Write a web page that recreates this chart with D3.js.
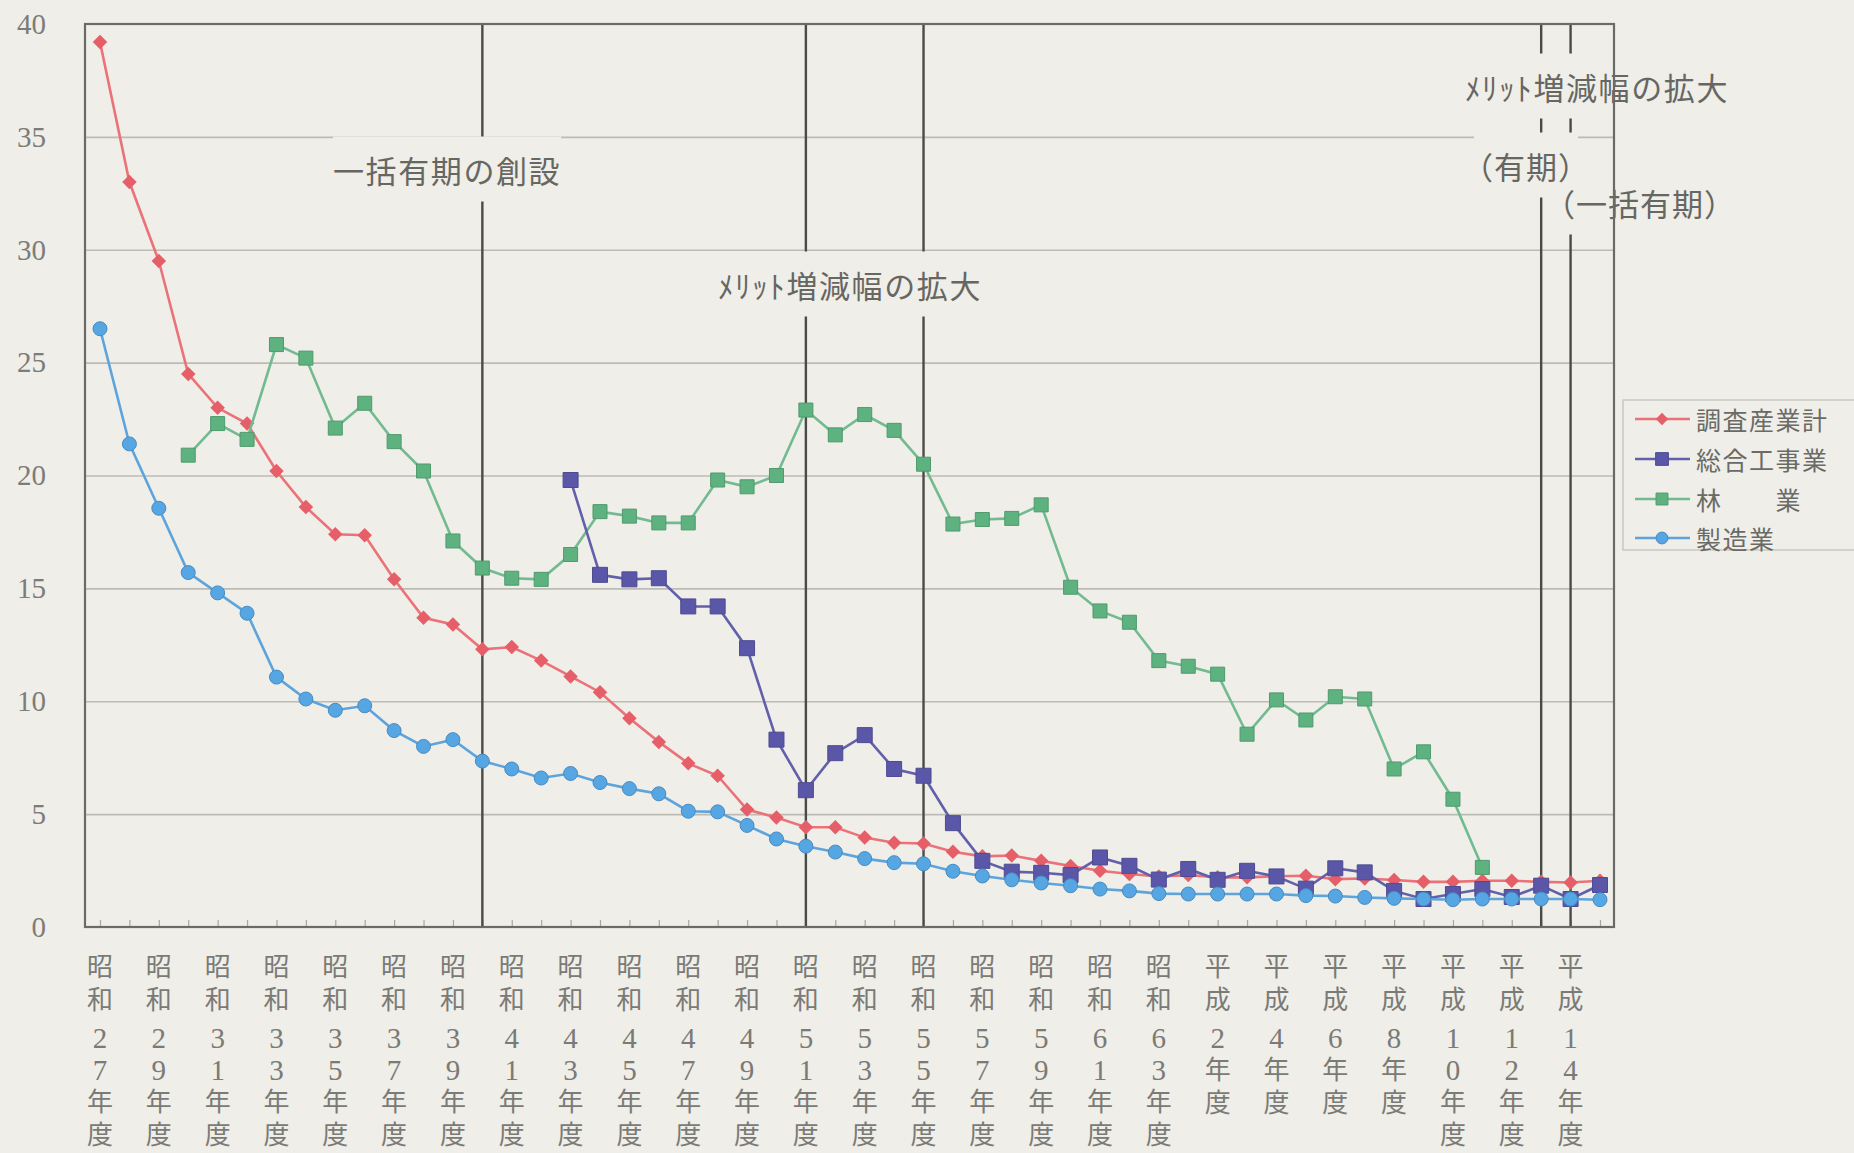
<!DOCTYPE html>
<html>
<head>
<meta charset="utf-8">
<script src="https://cdn.jsdelivr.net/npm/d3@7/dist/d3.min.js"></script>
<style>
  body { margin: 0; background: #efeee8; }
  svg { display: block; }
</style>
</head>
<body>
<div id="chart_area"></div>
<script>

// Years (one point per 年度)
var years = [1952, 1953, 1954, 1955, 1956, 1957, 1958, 1959, 1960, 1961,
             1962, 1963, 1964, 1965, 1966, 1967, 1968, 1969, 1970, 1971,
             1972, 1973, 1974, 1975, 1976, 1977, 1978, 1979, 1980, 1981,
             1982, 1983, 1984, 1985, 1986, 1987, 1988, 1989, 1990, 1991,
             1992, 1993, 1994, 1995, 1996, 1997, 1998, 1999, 2000, 2001,
             2002, 2003];

// Series values
var sangyo = [39.2, 33.0, 29.5, 24.5, 23.0, 22.3, 20.2, 18.6, 17.4, 17.35,
              15.4, 13.7, 13.4, 12.3, 12.4, 11.8, 11.1, 10.4, 9.25, 8.2,
              7.25, 6.7, 5.2, 4.85, 4.42, 4.42, 3.96, 3.73, 3.7, 3.33,
              3.13, 3.17, 2.93, 2.7, 2.49, 2.35, 2.24, 2.3, 2.2, 2.2,
              2.25, 2.27, 2.12, 2.15, 2.08, 2.0, 2.0, 2.05, 2.05, 2.0,
              1.97, 2.05];

var sogo = [null, null, null, null, null, null, null, null, null, null,
            null, null, null, null, null, null, 19.8, 15.6, 15.4, 15.45,
            14.2, 14.2, 12.35, 8.3, 6.06, 7.7, 8.5, 7.0, 6.7, 4.6,
            2.93, 2.45, 2.4, 2.3, 3.08, 2.71, 2.1, 2.57, 2.09, 2.49,
            2.24, 1.7, 2.6, 2.42, 1.6, 1.24, 1.46, 1.68, 1.33, 1.83,
            1.24, 1.86];

var ringyo = [null, null, null, 20.9, 22.3, 21.6, 25.8, 25.2, 22.1, 23.2,
              21.5, 20.2, 17.1, 15.9, 15.45, 15.4, 16.5, 18.4, 18.2, 17.9,
              17.9, 19.8, 19.5, 20.0, 22.9, 21.8, 22.7, 22.0, 20.5, 17.85,
              18.05, 18.1, 18.7, 15.05, 14.0, 13.5, 11.8, 11.55, 11.2, 8.54,
              10.06, 9.17, 10.2, 10.1, 7.0, 7.76, 5.66, 2.64, null, null,
              null, null];

var seizo = [26.5, 21.4, 18.55, 15.7, 14.8, 13.9, 11.07, 10.1, 9.6, 9.8,
             8.7, 8.0, 8.3, 7.35, 7.0, 6.6, 6.8, 6.4, 6.13, 5.9,
             5.13, 5.1, 4.5, 3.9, 3.58, 3.32, 3.03, 2.85, 2.8, 2.47,
             2.26, 2.09, 1.95, 1.83, 1.68, 1.6, 1.48, 1.46, 1.46, 1.46,
             1.46, 1.39, 1.37, 1.31, 1.27, 1.24, 1.21, 1.24, 1.24, 1.24,
             1.24, 1.21];

// Tick labels
var yTicks = [0, 5, 10, 15, 20, 25, 30, 35, 40];
var labelYears = [1952, 1954, 1956, 1958, 1960, 1962, 1964, 1966, 1968, 1970,
                  1972, 1974, 1976, 1978, 1980, 1982, 1984, 1986, 1988, 1990,
                  1992, 1994, 1996, 1998, 2000, 2002];
var xLabels = ["昭和27年度", "昭和29年度", "昭和31年度", "昭和33年度", "昭和35年度",
               "昭和37年度", "昭和39年度", "昭和41年度", "昭和43年度", "昭和45年度",
               "昭和47年度", "昭和49年度", "昭和51年度", "昭和53年度", "昭和55年度",
               "昭和57年度", "昭和59年度", "昭和61年度", "昭和63年度", "平成2年度",
               "平成4年度", "平成6年度", "平成8年度", "平成10年度", "平成12年度",
               "平成14年度"];

// Policy change years (vertical lines) and notes
var policyYears = [1965, 1976, 1980, 2001, 2002];
var notes = ["一括有期の創設", "ﾒﾘｯﾄ増減幅の拡大", "ﾒﾘｯﾄ増減幅の拡大", "（有期）", "（一括有期）"];

var seriesNames = ["調査産業計", "総合工事業", "林　　業", "製造業"];

// Frame
var frame_width = 1854;
var frame_height = 1153;
var plot = {left: 85, right: 1614, top: 24, bottom: 927};
var bg = "#efeee8";

var frame = d3.select("#chart_area").append("svg")
    .attr("width", frame_width)
    .attr("height", frame_height)
    .style("background", bg);

// Scales
var xScale = d3.scaleLinear().domain([1952, 2003]).range([100, 1600]);
var yScale = d3.scaleLinear().domain([0, 40]).range([plot.bottom, plot.top]);

// Horizontal grid
frame.append("g")
    .attr("class", "grid")
    .attr("transform", "translate(" + plot.left + ",0)")
    .call(d3.axisLeft(yScale).tickValues(yTicks.slice(1, -1))
          .tickSize(-(plot.right - plot.left)).tickFormat(""))
    .call(function(g) { g.select(".domain").remove(); })
    .selectAll("line")
    .attr("stroke", "#bcbcb4")
    .attr("stroke-width", 1.6);

// y tick labels
var yAxis = frame.append("g")
    .attr("class", "y axis")
    .attr("transform", "translate(46,0)")
    .call(d3.axisLeft(yScale).tickValues(yTicks).tickSize(0).tickPadding(0));
yAxis.select(".domain").remove();
yAxis.selectAll("text")
    .attr("font-family", "'Liberation Serif', 'DejaVu Serif', serif")
    .attr("font-size", 29)
    .attr("fill", "#7c7c78");

// yearly minor ticks on the bottom edge
var xAxis = frame.append("g")
    .attr("class", "x axis")
    .attr("transform", "translate(0," + plot.bottom + ")")
    .call(d3.axisBottom(xScale).tickValues(years).tickSize(-7).tickFormat(""));
xAxis.select(".domain").remove();
xAxis.selectAll("line").attr("stroke", "#a8a8a0").attr("stroke-width", 1.2);

// Vertical policy lines
frame.append("g")
    .selectAll("line")
    .data(policyYears)
    .enter().append("line")
    .attr("x1", function(d) { return xScale(d); })
    .attr("x2", function(d) { return xScale(d); })
    .attr("y1", plot.top)
    .attr("y2", plot.bottom)
    .attr("stroke", "#4a4a48")
    .attr("stroke-width", 2.4);

// Notes (with background so the lines break behind them)
var notePos = [[333, 169], [718, 284], [1465, 86], [1462, 165], [1544, 202]];
var rectG = frame.append("g");
var noteG = frame.append("g");
notes.forEach(function(t, i) {
  var txt = noteG.append("text")
      .attr("x", notePos[i][0])
      .attr("y", notePos[i][1])
      .attr("dominant-baseline", "central")
      .attr("font-family", "'Noto Sans CJK JP', sans-serif")
      .attr("font-size", 31)
      .attr("letter-spacing", i >= 3 ? 1 : 1.6)
      .attr("fill", "#666662")
      .text(t);
  var bb = txt.node().getBBox();
  rectG.append("rect")
      .attr("x", bb.x + (i >= 3 ? 12 : 0))
      .attr("y", bb.y - 10)
      .attr("width", bb.width - (i >= 3 ? 24 : 0))
      .attr("height", bb.height + 20)
      .attr("fill", bg);
});

// Plot border
frame.append("rect")
    .attr("x", plot.left)
    .attr("y", plot.top)
    .attr("width", plot.right - plot.left)
    .attr("height", plot.bottom - plot.top)
    .attr("fill", "none")
    .attr("stroke", "#6a6a66")
    .attr("stroke-width", 2.2);

// Series
var series = [
  {name: seriesNames[0], values: sangyo, line: "#ea7278", fill: "#e65e68", shape: "diamond", order: 0},
  {name: seriesNames[1], values: sogo,   line: "#6260aa", fill: "#5a57a8", shape: "square",  order: 2},
  {name: seriesNames[2], values: ringyo, line: "#72ba90", fill: "#5db27f", shape: "square",  order: 1},
  {name: seriesNames[3], values: seizo,  line: "#5ea4dc", fill: "#56a6e4", shape: "circle",  order: 3}
];

var line = d3.line()
    .defined(function(d) { return d.v !== null; })
    .x(function(d) { return xScale(d.year); })
    .y(function(d) { return yScale(d.v); });

function drawMarker(sel, s, scale) {
  if (s.shape === "circle") {
    sel.append("circle").attr("r", 7 * scale)
        .attr("fill", s.fill).attr("stroke", d3.color(s.fill).darker(0.5)).attr("stroke-width", 1);
  } else if (s.shape === "diamond") {
    sel.append("path").attr("d", d3.symbol().type(d3.symbolSquare).size(105 * scale * scale)())
        .attr("transform", "rotate(45)")
        .attr("fill", s.fill);
  } else {
    var side = (s.name === seriesNames[1] ? 15 : 14) * scale;
    sel.append("path").attr("d", d3.symbol().type(d3.symbolSquare).size(side * side)())
        .attr("fill", s.fill).attr("stroke", d3.color(s.fill).darker(0.4)).attr("stroke-width", 1);
  }
}

var data_canvas = frame.append("g").attr("class", "data_canvas");

series.slice().sort(function(a, b) { return a.order - b.order; }).forEach(function(s) {
  var pts = years.map(function(y, i) { return {year: y, v: s.values[i]}; });
  var g = data_canvas.append("g");
  g.append("path")
      .datum(pts)
      .attr("fill", "none")
      .attr("stroke", s.line)
      .attr("stroke-width", 2.6)
      .attr("d", line);
  g.selectAll(".pt")
      .data(pts.filter(function(d) { return d.v !== null; }))
      .enter().append("g")
      .attr("class", "pt")
      .attr("transform", function(d) { return "translate(" + xScale(d.year) + "," + yScale(d.v) + ")"; })
      .each(function() { drawMarker(d3.select(this), s, 1); });
});

// Vertical x labels: one text per label, one tspan per character
var xLab = frame.append("g").attr("class", "x labels");
labelYears.forEach(function(yr, i) {
  var chars = Array.from(xLabels[i]);
  var t = xLab.append("text")
      .attr("text-anchor", "middle")
      .attr("fill", "#7a7a76");
  var yPos = 976;
  chars.forEach(function(c, j) {
    var prevDigit = j > 0 && /[0-9]/.test(chars[j - 1]);
    var isDigit = /[0-9]/.test(c);
    if (j > 0) yPos += prevDigit ? 32 : (isDigit ? 38 : 33);
    t.append("tspan")
        .attr("x", xScale(yr))
        .attr("y", yPos + (isDigit ? 1 : 0))
        .attr("font-family", isDigit ? "'Liberation Serif', serif" : "'Noto Sans CJK JP', sans-serif")
        .attr("font-size", isDigit ? 29 : 26)
        .text(c);
  });
});

// Legend
var legend = frame.append("g").attr("transform", "translate(1623,400)");
legend.append("rect")
    .attr("width", 260).attr("height", 150)
    .attr("fill", bg)
    .attr("stroke", "#c9c9c2")
    .attr("stroke-width", 1.5);
var rowY = [19, 59, 99, 138];
series.forEach(function(s, i) {
  var row = legend.append("g").attr("transform", "translate(0," + rowY[i] + ")");
  row.append("line")
      .attr("x1", 12).attr("x2", 67)
      .attr("stroke", s.line).attr("stroke-width", 2.4);
  var m = row.append("g").attr("transform", "translate(39,0)");
  drawMarker(m, s, 0.85);
  row.append("text")
      .attr("x", 73)
      .attr("dominant-baseline", "central")
      .attr("font-family", "'Noto Sans CJK JP', sans-serif")
      .attr("font-size", 25)
      .attr("letter-spacing", 1.5)
      .attr("fill", "#6a6a66")
      .text(s.name);
});

</script>
</body>
</html>
